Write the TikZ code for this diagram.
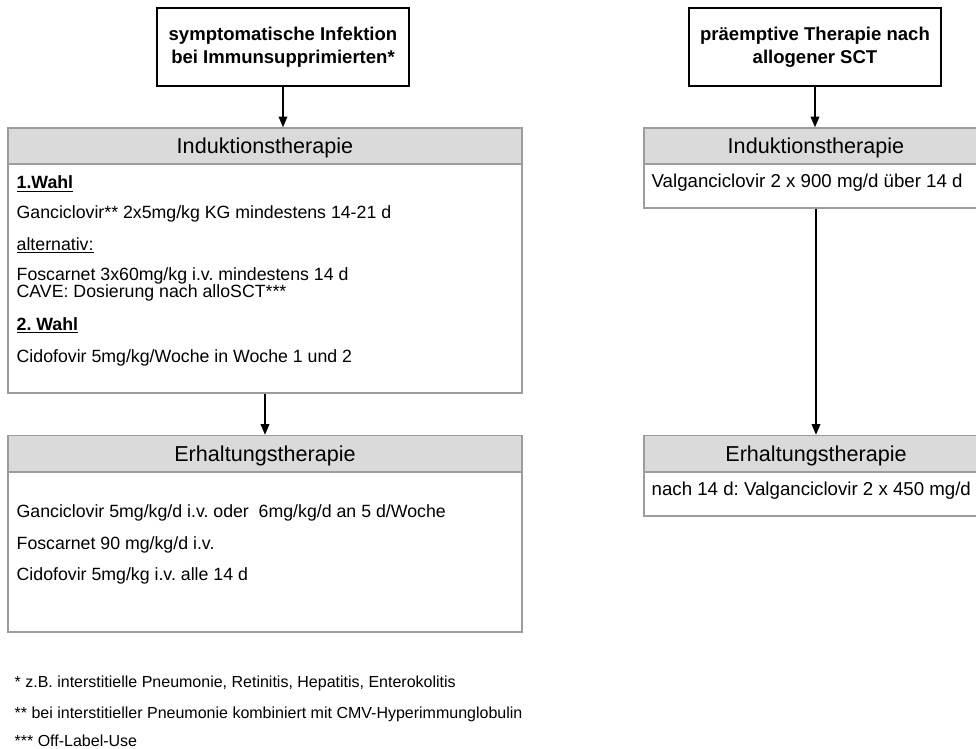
\documentclass[tikz,border=0pt]{standalone}
\usepackage{fontspec}
\setmainfont{Liberation Sans}
\usetikzlibrary{arrows.meta}
\definecolor{kopfgrau}{HTML}{DADADA}
\definecolor{randgrau}{HTML}{9C9C9C}
\frenchspacing
\begin{document}
\begin{tikzpicture}[x=0.75pt, y=-0.75pt, >={Triangle[length=8pt,width=6.5pt]}, line width=1pt,
		startbox/.style={draw=black, line width=0.9pt, minimum width=189pt, minimum height=58.5pt, align=center, font=\fontsize{13.9}{17.2}\selectfont\bfseries},
		kopf/.style={draw=randgrau, fill=kopfgrau, line width=1.1pt, minimum height=27pt, text depth=0pt, font=\fontsize{16.2}{18}\selectfont},
		rumpf/.style={draw=randgrau, line width=1.1pt},
		zeile/.style={anchor=base west, inner sep=0pt, font=\fontsize{13.3}{16}\selectfont},
		zeileR/.style={anchor=base west, inner sep=0pt, font=\fontsize{14}{16}\selectfont},
		fussnote/.style={anchor=base west, inner sep=0pt, font=\fontsize{12}{14}\selectfont}]
	\useasboundingbox (0,0) rectangle (976,749);
	
	% 左列：symptomatische Infektion
	\node[startbox] (sympt) at (283,47) {symptomatische Infektion\\bei Immunsupprimierten*};
	\node[rumpf, minimum width=385.5pt, minimum height=171.75pt] (indLrumpf) at (265,278.5) {};
	\node[kopf, minimum width=385.5pt] (indLkopf) at (265,146) {Induktionstherapie};
	\node[zeile] (wahl1) at (16,189) {\textbf{\underline{1.Wahl}}};
	\node[zeile] (ganc) at (16,219) {Ganciclovir** 2x5mg/kg KG mindestens 14-21 d};
	\node[zeile] (alt) at (16,250) {\underline{alternativ:}};
	\node[zeile] (fosc) at (16,280) {Foscarnet 3x60mg/kg i.v. mindestens 14 d};
	\node[zeile] (cave) at (16,297) {CAVE: Dosierung nach alloSCT***};
	\node[zeile] (wahl2) at (16,330) {\textbf{\underline{2. Wahl}}};
	\node[zeile] (cido) at (16,362) {Cidofovir 5mg/kg/Woche in Woche 1 und 2};
	
	\node[rumpf, minimum width=385.5pt, minimum height=120pt] (erhLrumpf) at (265,552) {};
	\node[kopf, minimum width=385.5pt] (erhLkopf) at (265,453.5) {Erhaltungstherapie};
	\node[zeile] (eganc) at (16,517) {Ganciclovir 5mg/kg/d i.v. oder~ 6mg/kg/d an 5 d/Woche};
	\node[zeile] (efosc) at (16,549) {Foscarnet 90 mg/kg/d i.v.};
	\node[zeile] (ecido) at (16,580) {Cidofovir 5mg/kg i.v. alle 14 d};
	
	\draw[->] (sympt.south) -- (sympt.south |- indLkopf.north);
	\draw[->] (indLrumpf.south) -- (erhLkopf.north);
	
	% 右列：präemptive Therapie
	\node[startbox] (praemp) at (815,47) {präemptive Therapie nach\\allogener SCT};
	\node[rumpf, minimum width=258pt, minimum height=33pt] (indRrumpf) at (816,186) {};
	\node[kopf, minimum width=258pt] (indRkopf) at (816,146) {Induktionstherapie};
	\node[zeileR] (valg) at (651,188) {Valganciclovir 2 x 900 mg/d über 14 d};
	
	\node[rumpf, minimum width=258pt, minimum height=33pt] (erhRrumpf) at (816,494) {};
	\node[kopf, minimum width=258pt] (erhRkopf) at (816,453.5) {Erhaltungstherapie};
	\node[zeileR] (nach) at (651,495) {nach 14 d: Valganciclovir 2 x 450 mg/d};
	
	\draw[->] (praemp.south) -- (praemp.south |- indRkopf.north);
	\draw[->] (indRrumpf.south) -- (erhRkopf.north);
	
	% Fußnoten
	\node[fussnote] (fn1) at (14,687) {* z.B. interstitielle Pneumonie, Retinitis, Hepatitis, Enterokolitis};
	\node[fussnote] (fn2) at (14,718) {** bei interstitieller Pneumonie kombiniert mit CMV-Hyperimmunglobulin};
	\node[fussnote] (fn3) at (14,746) {*** Off-Label-Use};
\end{tikzpicture}
\end{document}
